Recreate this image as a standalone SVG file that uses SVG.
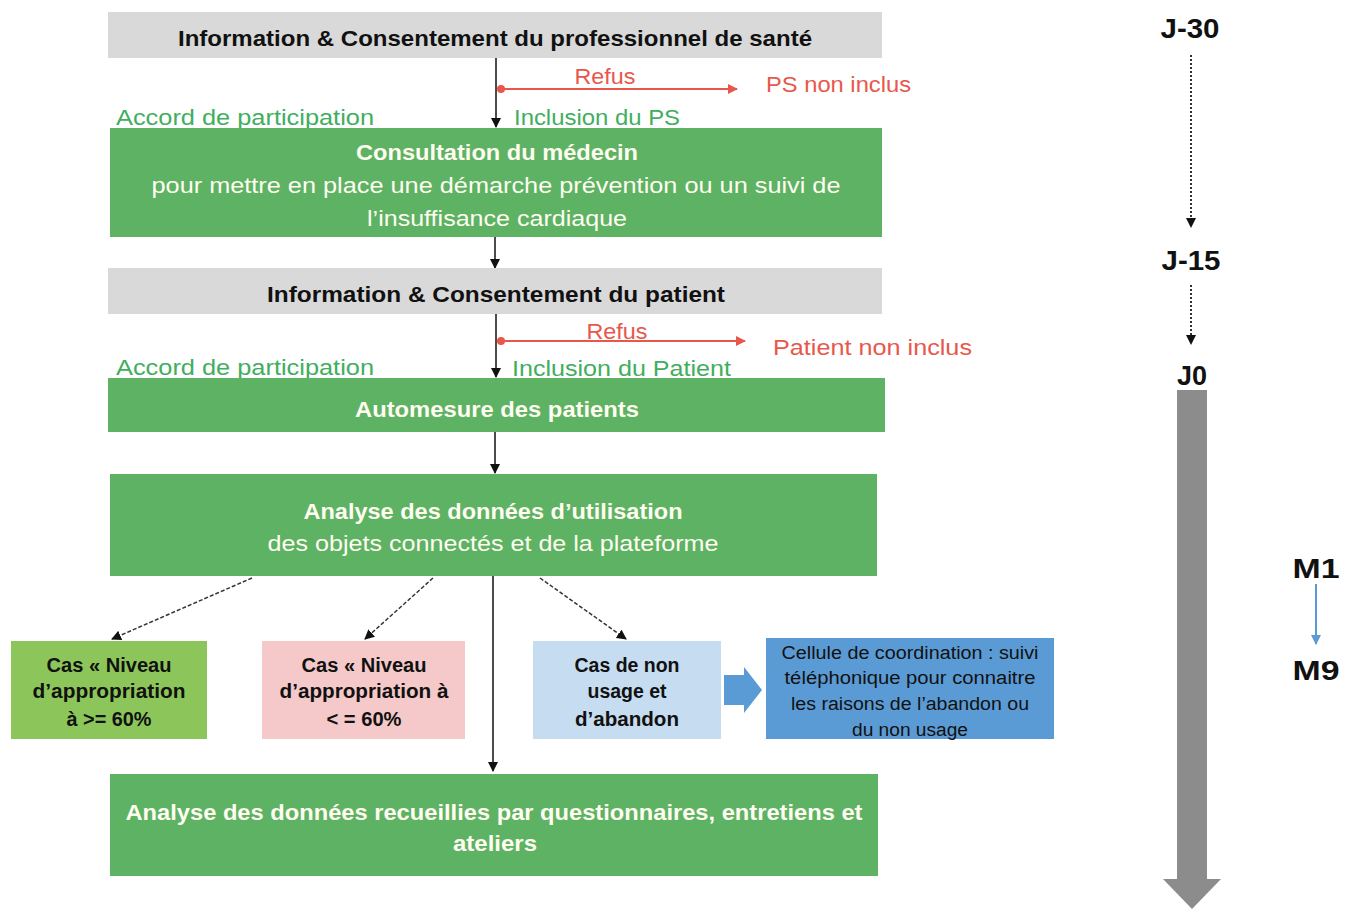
<svg xmlns="http://www.w3.org/2000/svg" width="1350" height="909" viewBox="0 0 1350 909">
<defs>
<style>
text{font-family:"Liberation Sans","Noto Sans",Arial,sans-serif;}
.t{font-size:22px;font-weight:bold;fill:#111;text-anchor:middle;}
.w{font-size:22px;fill:#fffdf0;text-anchor:middle;}
.wb{font-size:22px;font-weight:bold;fill:#fffdf0;text-anchor:middle;}
.g{font-size:22px;fill:#3fae5e;}
.r{font-size:22px;fill:#e8574c;}
.k{font-size:20px;font-weight:bold;fill:#111;text-anchor:middle;}
.c{font-size:18px;fill:#111;text-anchor:middle;}
.tl{font-size:28px;font-weight:bold;fill:#111;text-anchor:middle;}
.gray{fill:#d9d9d9;}
.green{fill:#5db264;}
.ln{stroke:#111;stroke-width:1.5;fill:none;}
.red{stroke:#e8574c;stroke-width:2;fill:none;}
.dash{stroke:#333;stroke-width:1.5;fill:none;stroke-dasharray:4 2;}
.dot{stroke:#333;stroke-width:2;fill:none;stroke-dasharray:2 2;}
</style>
<marker id="ab" viewBox="0 0 10 10" refX="9" refY="5" markerWidth="10" markerHeight="10" markerUnits="userSpaceOnUse" orient="auto"><path d="M0,0 L10,5 L0,10 z" fill="#111"/></marker>
<marker id="ar" viewBox="0 0 10 10" refX="9" refY="5" markerWidth="10" markerHeight="10" markerUnits="userSpaceOnUse" orient="auto"><path d="M0,0 L10,5 L0,10 z" fill="#e8574c"/></marker>
<marker id="abl" viewBox="0 0 10 10" refX="9" refY="5" markerWidth="10" markerHeight="10" markerUnits="userSpaceOnUse" orient="auto"><path d="M0,0 L10,5 L0,10 z" fill="#5b9bd5"/></marker>
</defs>

<g id="connectors">
<line class="ln" x1="496" y1="58" x2="496" y2="127" marker-end="url(#ab)"/>
<circle cx="501" cy="89" r="4" fill="#e8574c"/>
<line class="red" x1="501" y1="89" x2="737" y2="89" marker-end="url(#ar)"/>
<line class="ln" x1="495" y1="237" x2="495" y2="268" marker-end="url(#ab)"/>
<line class="ln" x1="496" y1="314" x2="496" y2="377" marker-end="url(#ab)"/>
<circle cx="501" cy="341" r="4" fill="#e8574c"/>
<line class="red" x1="501" y1="341" x2="745" y2="341" marker-end="url(#ar)"/>
<line class="ln" x1="495" y1="432" x2="495" y2="473" marker-end="url(#ab)"/>
<line class="dash" x1="252" y1="578" x2="112" y2="639" marker-end="url(#ab)"/>
<line class="dash" x1="433" y1="578" x2="365" y2="639" marker-end="url(#ab)"/>
<line class="dash" x1="540" y1="578" x2="626" y2="639" marker-end="url(#ab)"/>
<line class="ln" x1="493" y1="576" x2="493" y2="771" marker-end="url(#ab)"/>
<path d="M724,675 L744,675 L744,667 L762,690 L744,713 L744,705 L724,705 z" fill="#5b9bd5"/>
<line class="dot" x1="1191" y1="55" x2="1191" y2="227" marker-end="url(#ab)"/>
<line class="dot" x1="1191" y1="285" x2="1191" y2="344" marker-end="url(#ab)"/>
<path d="M1177,390 L1207,390 L1207,879 L1221,879 L1192,909 L1163,879 L1177,879 z" fill="#8c8c8c"/>
<line x1="1316" y1="584" x2="1316" y2="644" stroke="#5b9bd5" stroke-width="2" marker-end="url(#abl)"/>
</g>

<g id="n1"><rect class="gray" x="108" y="12" width="774" height="46"/>
<text class="t" x="495" y="46" textLength="634" lengthAdjust="spacingAndGlyphs">Information &amp; Consentement du professionnel de santé</text></g>

<g id="lbl1">
<text class="r" x="605" y="84" text-anchor="middle" textLength="61" lengthAdjust="spacingAndGlyphs">Refus</text>
<text class="r" x="766" y="92" textLength="145" lengthAdjust="spacingAndGlyphs">PS non inclus</text>
<text class="g" x="116" y="125" textLength="258" lengthAdjust="spacingAndGlyphs">Accord de participation</text>
<text class="g" x="514" y="125" textLength="166" lengthAdjust="spacingAndGlyphs">Inclusion du PS</text>
</g>

<g id="n2"><rect class="green" x="110" y="128" width="772" height="109"/>
<text class="wb" x="497" y="160" textLength="282" lengthAdjust="spacingAndGlyphs">Consultation du médecin</text>
<text class="w" x="496" y="193" textLength="689" lengthAdjust="spacingAndGlyphs">pour mettre en place une démarche prévention ou un suivi de</text>
<text class="w" x="497" y="226" textLength="260" lengthAdjust="spacingAndGlyphs">l’insuffisance cardiaque</text></g>

<g id="n3"><rect class="gray" x="108" y="268" width="774" height="46"/>
<text class="t" x="496" y="302" textLength="458" lengthAdjust="spacingAndGlyphs">Information &amp; Consentement du patient</text></g>

<g id="lbl2">
<text class="r" x="617" y="339" text-anchor="middle" textLength="61" lengthAdjust="spacingAndGlyphs">Refus</text>
<text class="r" x="773" y="355" textLength="199" lengthAdjust="spacingAndGlyphs">Patient non inclus</text>
<text class="g" x="116" y="375" textLength="258" lengthAdjust="spacingAndGlyphs">Accord de participation</text>
<text class="g" x="512" y="376" textLength="219" lengthAdjust="spacingAndGlyphs">Inclusion du Patient</text>
</g>

<g id="n4"><rect class="green" x="108" y="378" width="777" height="54"/>
<text class="wb" x="497" y="417" textLength="284" lengthAdjust="spacingAndGlyphs">Automesure des patients</text></g>

<g id="n5"><rect class="green" x="110" y="474" width="767" height="102"/>
<text class="wb" x="493" y="519" textLength="379" lengthAdjust="spacingAndGlyphs">Analyse des données d’utilisation</text>
<text class="w" x="493" y="551" textLength="451" lengthAdjust="spacingAndGlyphs">des objets connectés et de la plateforme</text></g>

<g id="n6"><rect x="11" y="641" width="196" height="98" fill="#8cc65a"/>
<text class="k" x="109" y="672" textLength="125" lengthAdjust="spacingAndGlyphs">Cas « Niveau</text>
<text class="k" x="109" y="698" textLength="153" lengthAdjust="spacingAndGlyphs">d’appropriation</text>
<text class="k" x="109" y="726" textLength="85" lengthAdjust="spacingAndGlyphs">à &gt;= 60%</text></g>

<g id="n7"><rect x="262" y="641" width="203" height="98" fill="#f5c9c9"/>
<text class="k" x="364" y="672" textLength="125" lengthAdjust="spacingAndGlyphs">Cas « Niveau</text>
<text class="k" x="364" y="698" textLength="169" lengthAdjust="spacingAndGlyphs">d’appropriation à</text>
<text class="k" x="364" y="726" textLength="75" lengthAdjust="spacingAndGlyphs">&lt; = 60%</text></g>

<g id="n8"><rect x="533" y="641" width="188" height="98" fill="#c6dcf0"/>
<text class="k" x="627" y="672" textLength="105" lengthAdjust="spacingAndGlyphs">Cas de non</text>
<text class="k" x="627" y="698" textLength="79" lengthAdjust="spacingAndGlyphs">usage et</text>
<text class="k" x="627" y="726" textLength="104" lengthAdjust="spacingAndGlyphs">d’abandon</text></g>

<g id="n9"><rect x="766" y="638" width="288" height="101" fill="#5b9bd5"/>
<text class="c" x="910" y="659" textLength="257" lengthAdjust="spacingAndGlyphs">Cellule de coordination : suivi</text>
<text class="c" x="910" y="684" textLength="251" lengthAdjust="spacingAndGlyphs">téléphonique pour connaitre</text>
<text class="c" x="910" y="710" textLength="238" lengthAdjust="spacingAndGlyphs">les raisons de l’abandon ou</text>
<text class="c" x="910" y="736" textLength="116" lengthAdjust="spacingAndGlyphs">du non usage</text></g>

<g id="n10"><rect class="green" x="110" y="774" width="768" height="102"/>
<text class="wb" x="494" y="820" textLength="737" lengthAdjust="spacingAndGlyphs">Analyse des données recueillies par questionnaires, entretiens et</text>
<text class="wb" x="495" y="851" textLength="84" lengthAdjust="spacingAndGlyphs">ateliers</text></g>

<g id="timeline">
<text class="tl" x="1190" y="38" textLength="59" lengthAdjust="spacingAndGlyphs">J-30</text>
<text class="tl" x="1191" y="270" textLength="59" lengthAdjust="spacingAndGlyphs">J-15</text>
<text class="tl" x="1192" y="385" textLength="30" lengthAdjust="spacingAndGlyphs">J0</text>
<text class="tl" x="1316" y="578" textLength="47" lengthAdjust="spacingAndGlyphs">M1</text>
<text class="tl" x="1316" y="680" textLength="47" lengthAdjust="spacingAndGlyphs">M9</text>
</g>
</svg>
